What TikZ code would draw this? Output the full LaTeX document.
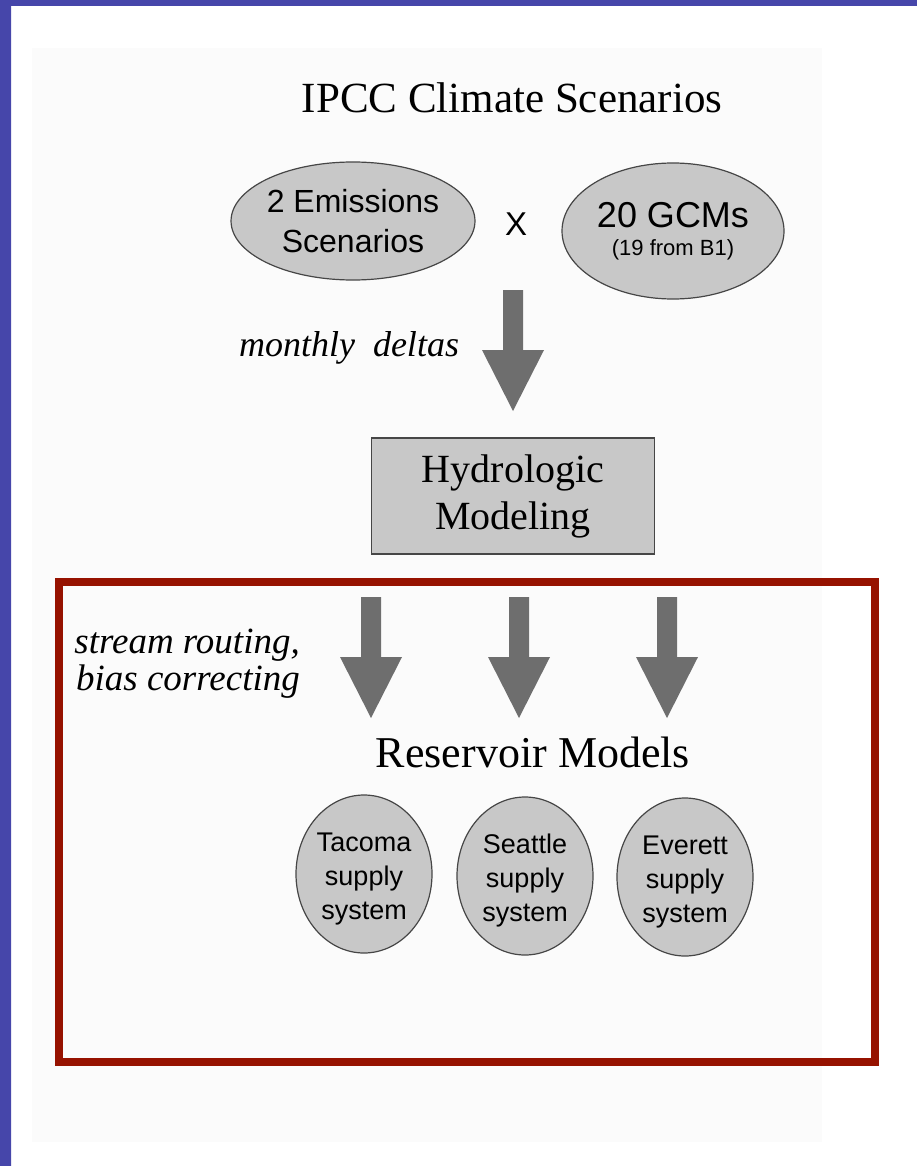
\documentclass[tikz,border=0pt]{standalone}
\usepackage{fontspec}
\setmainfont{Liberation Serif}
\setsansfont{Liberation Sans}
\usetikzlibrary{shapes.geometric}
\definecolor{frameblue}{RGB}{70,70,170}
\definecolor{framered}{RGB}{150,18,0}
\definecolor{arrowgray}{RGB}{110,110,110}
\definecolor{ovalfill}{RGB}{200,200,200}
\definecolor{ovalline}{RGB}{70,70,70}
\definecolor{paper}{RGB}{251,251,251}
\tikzset{fatarrow/.pic={
  \fill [arrowgray] (-10,0) -- (10,0) -- (10,60) -- (31,60) -- (0,121) -- (-31,60) -- (-10,60) -- cycle;
}}
\begin{document}
\begin{tikzpicture}[x=1pt,y=-1pt,
    oval/.style={ellipse,draw=ovalline,line width=1.2pt,fill=ovalfill,inner sep=0pt,align=center,font=\sffamily},
    heading/.style={anchor=base,inner sep=0pt,font=\fontsize{43}{48}\selectfont},
    note/.style={inner sep=0pt,font=\itshape\fontsize{36}{37}\selectfont}]
  \useasboundingbox (0,0) rectangle (917,1166);
  \fill [paper] (32,48) rectangle (822,1142);
  \fill [frameblue] (0,0) rectangle (11,1166) (0,0) rectangle (917,6);
  \node [heading] (ipcc) at (512,113) {IPCC Climate Scenarios};
  \node [oval,minimum width=222,minimum height=118,font=\sffamily\fontsize{32}{40}\selectfont] (emis) at (353,221) {2 Emissions\\Scenarios};
  \node [inner sep=0pt,font=\sffamily\fontsize{33}{40}\selectfont] (times) at (516,224) {X};
  \node [oval,minimum width=222,minimum height=136,font=\sffamily\fontsize{36}{28}\selectfont] (gcm) at (673,231) {20 GCMs\\{\fontsize{22}{28}\selectfont(19 from B1)}};
  \pic at (513,290) {fatarrow};
  \node [note,anchor=base] (monthly) at (349,356) {monthly\ \ deltas};
  \node [draw=ovalline,line width=1.2pt,fill=ovalfill,minimum width=283,minimum height=116,inner sep=0pt,align=center,font=\fontsize{40}{47}\selectfont] (hydro) at (513,496) {Hydrologic\\Modeling};
  \draw [framered,line width=8pt] (59,582) rectangle (875,1062);
  \foreach \x in {371,519,667} \pic at (\x,597) {fatarrow};
  \node [note,align=right,anchor=east,font=\itshape\fontsize{37}{37}\selectfont] (routing) at (300,664) {stream routing,\\bias correcting};
  \node [heading,font=\fontsize{44}{48}\selectfont] (reservoir) at (533,767) {Reservoir Models};
  \foreach \city/\x/\y in {Tacoma/364/874,Seattle/525/876,Everett/685/877}
    \node [oval,minimum width=136,minimum height=158,
      label={[align=center,yshift=-5pt,font=\sffamily\fontsize{27}{34}\selectfont]center:\city\\supply\\system}] (\city) at (\x,\y) {};
\end{tikzpicture}
\end{document}
